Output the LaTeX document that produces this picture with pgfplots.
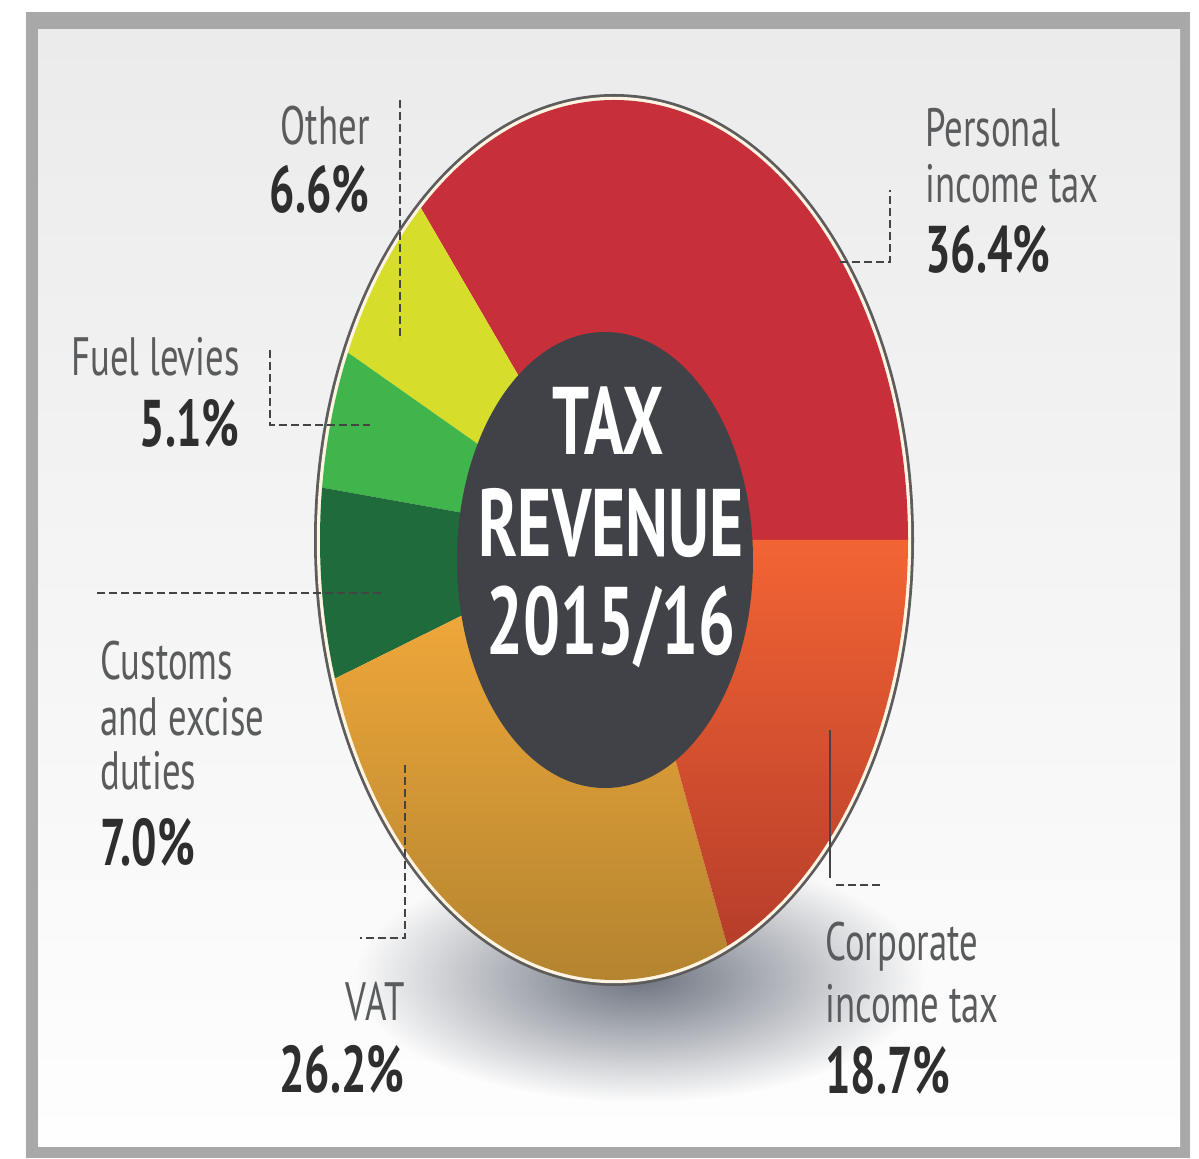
\documentclass[border=0pt]{standalone}
\usepackage{pgfplots}
\pgfplotsset{compat=1.18}
\usepackage{pgfplotstable}
\usetikzlibrary{fadings}
\usepackage{fontspec}
\setmainfont{PT Sans}[FakeStretch=0.68]
\newfontfamily\centerfont{PT Sans}[FakeStretch=0.68]

\definecolor{cPIT}{HTML}{C72F3B}
\definecolor{cCITtop}{HTML}{F26434}
\definecolor{cCITbot}{HTML}{B73D2A}
\definecolor{cVATtop}{HTML}{FAAE3C}
\definecolor{cVATmid}{HTML}{E39E36}
\definecolor{cVATbot}{HTML}{B2832F}
\definecolor{cCUS}{HTML}{1F6B3B}
\definecolor{cFUEL}{HTML}{3FB54B}
\definecolor{cOTH}{HTML}{D6DD2B}
\definecolor{cCenter}{HTML}{404248}
\definecolor{cFrame}{HTML}{A8A8A8}
\definecolor{cLabel}{HTML}{5A5B5D}
\definecolor{cPct}{HTML}{2E2E2E}
\definecolor{cLine}{HTML}{444444}
\definecolor{bgTop}{HTML}{EBEBEB}
\definecolor{bgBot}{HTML}{FEFEFE}
\definecolor{cRim}{HTML}{5C5C5C}
\definecolor{cCream}{HTML}{FFF3E2}
\definecolor{cShadow}{HTML}{6E7480}

\tikzfading[name=softfade, inner color=transparent!0, outer color=transparent!100]

\pgfplotstableread{
key value
Personal 36.4
Other 6.6
Fuel 5.1
Customs 7.0
VAT 26.2
Corporate 18.7
}\taxdata

\pgfplotstablegetelem{0}{value}\of\taxdata \let\vA\pgfplotsretval
\pgfplotstablegetelem{1}{value}\of\taxdata \let\vB\pgfplotsretval
\pgfplotstablegetelem{2}{value}\of\taxdata \let\vC\pgfplotsretval
\pgfplotstablegetelem{3}{value}\of\taxdata \let\vD\pgfplotsretval
\pgfplotstablegetelem{4}{value}\of\taxdata \let\vE\pgfplotsretval
\pgfplotstablegetelem{5}{value}\of\taxdata \let\vF\pgfplotsretval
\pgfmathsetmacro\aA{3.6*\vA}
\pgfmathsetmacro\aB{\aA+3.6*\vB}
\pgfmathsetmacro\aC{\aB+3.6*\vC}
\pgfmathsetmacro\aD{\aC+3.6*\vD}
\pgfmathsetmacro\aE{\aD+3.6*\vE}
\pgfmathsetmacro\aF{\aE+3.6*\vF}

\newcommand\nameFont{\fontsize{27}{27.5}\selectfont}
\newcommand\pctFont{\fontsize{33}{33}\selectfont\bfseries}
\newcommand\ctrFont{\centerfont\fontsize{48}{50}\selectfont\bfseries}

\begin{document}
\begin{tikzpicture}
\begin{axis}[hide axis, scale only axis, x=0.5pt, y=0.5pt,
  xmin=0, xmax=1199, ymin=0, ymax=1156, clip=false]
% background and frame
\fill[white] (axis cs:0,0) rectangle (axis cs:1199,1156);
\fill[cFrame] (axis cs:26,-2) rectangle (axis cs:1190,1144);
\shade[top color=bgTop, bottom color=bgBot] (axis cs:38,10) rectangle (axis cs:1180,1126);
% shadow
\fill[cShadow, path fading=softfade] (axis cs:640,178) ellipse[x radius=142pt, y radius=62pt];
% rim
\fill[cRim] (axis cs:614,616) ellipse[x radius=150pt, y radius=223pt];
\fill[cCream] (axis cs:614,616) ellipse[x radius=148.6pt, y radius=221.6pt];
% wedges
\fill[cPIT] (axis cs:614,616) -- ++(0:147pt and 220pt)
  arc[start angle=0, end angle=\aA, x radius=147pt, y radius=220pt] -- cycle;
\fill[cOTH] (axis cs:614,616) -- ++(\aA:147pt and 220pt)
  arc[start angle=\aA, end angle=\aB, x radius=147pt, y radius=220pt] -- cycle;
\fill[cFUEL] (axis cs:614,616) -- ++(\aB:147pt and 220pt)
  arc[start angle=\aB, end angle=\aC, x radius=147pt, y radius=220pt] -- cycle;
\fill[cCUS] (axis cs:614,616) -- ++(\aC:147pt and 220pt)
  arc[start angle=\aC, end angle=\aD, x radius=147pt, y radius=220pt] -- cycle;
\shade[top color=cVATtop, middle color=cVATmid, bottom color=cVATbot] (axis cs:614,616) -- ++(\aD:147pt and 220pt)
  arc[start angle=\aD, end angle=\aE, x radius=147pt, y radius=220pt] -- cycle;
\shade[top color=cCITtop, bottom color=cCITbot] (axis cs:614,616) -- ++(\aE:147pt and 220pt)
  arc[start angle=\aE, end angle=\aF, x radius=147pt, y radius=220pt] -- cycle;
% connectors
\begin{scope}[draw=cLine, line width=0.8pt, dash pattern=on 4pt off 2pt]
\draw (axis cs:400,1056) -- (axis cs:400,816);
\draw (axis cs:840,894) -- (axis cs:890,894) -- (axis cs:890,966);
\draw (axis cs:270,806) -- (axis cs:270,731) -- (axis cs:370,731);
\draw (axis cs:97,563) -- (axis cs:385,563);
\draw (axis cs:405,391) -- (axis cs:405,218) -- (axis cs:360,218);
\draw (axis cs:880,271) -- (axis cs:836,271);
\end{scope}
\draw[cLine, line width=0.6pt] (axis cs:830,426) -- (axis cs:830,278);
% centre
\fill[cCenter] (axis cs:605,596) ellipse[x radius=74pt, y radius=114pt];
\node[anchor=base, text=white, font=\ctrFont, inner sep=0] at (axis cs:608,701) {TAX};
\node[anchor=base, text=white, font=\ctrFont, inner sep=0] at (axis cs:611,599) {REVENUE};
\node[anchor=base, text=white, font=\ctrFont, inner sep=0] at (axis cs:611,501) {2015/16};
% labels
\node[anchor=base east, text=cLabel, font=\nameFont, inner sep=0] at (axis cs:370,1011) {Other};
\node[anchor=base east, text=cPct, font=\pctFont, inner sep=0] at (axis cs:370,943) {6.6\%};
\node[anchor=base west, text=cLabel, font=\nameFont, inner sep=0] at (axis cs:925,1009) {Personal};
\node[anchor=base west, text=cLabel, font=\nameFont, inner sep=0] at (axis cs:925,953) {income tax};
\node[anchor=base west, text=cPct, font=\pctFont, inner sep=0] at (axis cs:925,883) {36.4\%};
\node[anchor=base east, text=cLabel, font=\nameFont, inner sep=0] at (axis cs:240,780) {Fuel levies};
\node[anchor=base east, text=cPct, font=\pctFont, inner sep=0] at (axis cs:240,709) {5.1\%};
\node[anchor=base west, text=cLabel, font=\nameFont, inner sep=0] at (axis cs:100,476) {Customs};
\node[anchor=base west, text=cLabel, font=\nameFont, inner sep=0] at (axis cs:100,421) {and excise};
\node[anchor=base west, text=cLabel, font=\nameFont, inner sep=0] at (axis cs:100,366) {duties};
\node[anchor=base west, text=cPct, font=\pctFont, inner sep=0] at (axis cs:100,291) {7.0\%};
\node[anchor=base east, text=cLabel, font=\nameFont, inner sep=0] at (axis cs:405,136) {VAT};
\node[anchor=base east, text=cPct, font=\pctFont, inner sep=0] at (axis cs:405,64) {26.2\%};
\node[anchor=base west, text=cLabel, font=\nameFont, inner sep=0] at (axis cs:825,196) {Corporate};
\node[anchor=base west, text=cLabel, font=\nameFont, inner sep=0] at (axis cs:825,134) {income tax};
\node[anchor=base west, text=cPct, font=\pctFont, inner sep=0] at (axis cs:825,63) {18.7\%};
\end{axis}
\end{tikzpicture}
\end{document}
